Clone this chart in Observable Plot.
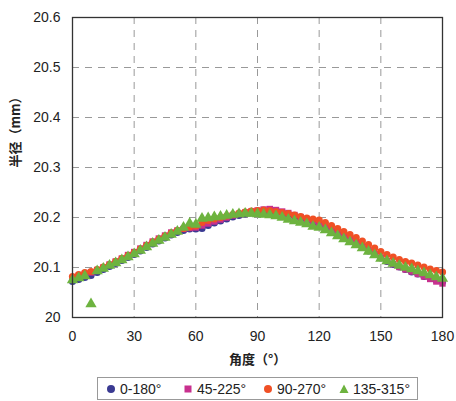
<!DOCTYPE html>
<html><head><meta charset="utf-8">
<script src="https://cdn.jsdelivr.net/npm/d3@7"></script>
<script src="https://cdn.jsdelivr.net/npm/@observablehq/plot@0.6"></script>
<style>
body{margin:0;background:#fff;font-family:"Liberation Sans",Arial,sans-serif;}
#chart{position:absolute;left:0;top:0;}
#legend{position:absolute;left:97px;top:377px;width:319px;height:21px;border:1px solid #999;font-size:14px;color:#222;}
#legend .it{position:absolute;top:0;height:21px;display:flex;align-items:center;white-space:nowrap;}
#legend svg{margin-right:4px;}
</style></head>
<body>
<div id="chart"></div>
<div id="legend"></div>
<script>
const angles = d3.range(0, 181, 3);
const seriesNames = ["0-180°", "45-225°", "90-270°", "135-315°"];
const seriesColors = ["#3a3a92", "#c8308e", "#f05025", "#6db33f"];
const seriesSymbols = ["circle", "square", "circle", "triangle"];
const yTicks = [20, 20.1, 20.2, 20.3, 20.4, 20.5, 20.6];
const xTicks = [0, 30, 60, 90, 120, 150, 180];

const blue = [20.072,20.076,20.080,20.084,20.090,20.096,20.102,20.108,20.114,20.120,20.126,20.133,20.140,20.147,20.153,20.159,20.165,20.170,20.174,20.177,20.177,20.178,20.184,20.189,20.193,20.197,20.201,20.204,20.207,20.209,20.211,20.212,20.212,20.211,20.209,20.206,20.202,20.198,20.194,20.190,20.186,20.180,20.174,20.168,20.161,20.154,20.147,20.140,20.133,20.126,20.119,20.112,20.106,20.101,20.096,20.091,20.087,20.082,20.078,20.074,20.071];
const magenta = [20.078,20.083,20.087,20.090,20.095,20.100,20.106,20.112,20.118,20.125,20.131,20.138,20.145,20.152,20.158,20.164,20.170,20.174,20.177,20.179,20.180,20.184,20.188,20.192,20.196,20.200,20.204,20.207,20.210,20.212,20.214,20.216,20.217,20.215,20.212,20.209,20.205,20.201,20.197,20.193,20.189,20.183,20.177,20.170,20.163,20.156,20.149,20.142,20.135,20.127,20.120,20.113,20.107,20.101,20.096,20.092,20.087,20.082,20.077,20.072,20.068];
const orange = [20.082,20.086,20.090,20.092,20.096,20.101,20.106,20.112,20.118,20.124,20.130,20.137,20.144,20.151,20.157,20.163,20.169,20.174,20.178,20.181,20.183,20.190,20.194,20.197,20.200,20.203,20.206,20.209,20.211,20.213,20.214,20.215,20.214,20.212,20.210,20.208,20.205,20.202,20.199,20.197,20.195,20.190,20.184,20.178,20.172,20.166,20.160,20.153,20.146,20.139,20.132,20.126,20.121,20.116,20.112,20.109,20.105,20.101,20.097,20.094,20.091];
const green = [20.075,20.079,20.083,20.027,20.093,20.098,20.104,20.109,20.115,20.121,20.127,20.134,20.141,20.148,20.154,20.160,20.166,20.172,20.180,20.188,20.186,20.198,20.199,20.201,20.202,20.204,20.206,20.207,20.208,20.208,20.207,20.206,20.205,20.203,20.200,20.196,20.193,20.190,20.187,20.182,20.180,20.175,20.169,20.163,20.157,20.151,20.145,20.139,20.132,20.125,20.118,20.113,20.108,20.104,20.100,20.097,20.093,20.089,20.085,20.081,20.078];

const allSeries = [blue, magenta, orange, green];

const dotMarks = allSeries.map((vals, k) =>
  Plot.dot(angles.map((a, i) => ({a, v: vals[i]})), {
    x: "a", y: "v", symbol: () => seriesSymbols[k],
    fill: seriesColors[k], stroke: "none",
    r: seriesSymbols[k] === "triangle" ? 4.2 : 3.6
  })
);

const plot = Plot.plot({
  width: 456, height: 376,
  marginTop: 17, marginLeft: 72, marginRight: 14, marginBottom: 59,
  style: {fontFamily: "'Liberation Sans', Arial, sans-serif", fontSize: "14px", color: "#222", background: "#fff"},
  symbol: {type: "identity"},
  x: {domain: [0, 180], ticks: xTicks},
  y: {domain: [20, 20.6], ticks: yTicks},
  marks: [
    Plot.ruleX(xTicks.slice(1, -1), {stroke: "#999", strokeDasharray: "7,6", strokeWidth: 1}),
    Plot.ruleY(yTicks.slice(1, -1), {stroke: "#999", strokeDasharray: "7,6", strokeWidth: 1}),
    ...dotMarks,
    Plot.frame({stroke: "#333", strokeWidth: 1.3}),
    Plot.axisX({ticks: xTicks, tickSize: 0, tickPadding: 14, label: null, fontSize: 14}),
    Plot.axisY({ticks: yTicks, tickSize: 0, tickPadding: 12, label: null, fontSize: 14,
      tickFormat: d => d === 20 ? "20" : d.toFixed(1)}),
    Plot.text(["角度（°）"], {frameAnchor: "bottom", dy: 46, fontWeight: "bold", fontSize: 13,
      fontFamily: "'Noto Sans CJK SC', sans-serif", fill: "#222", text: d => d}),
    Plot.text(["半径（mm）"], {frameAnchor: "left", dx: -57, rotate: -90, fontWeight: "bold", fontSize: 13,
      fontFamily: "'Noto Sans CJK SC', sans-serif", fill: "#222", text: d => d})
  ]
});
document.getElementById("chart").appendChild(plot);

const legend = document.getElementById("legend");
const legendLeft = [8, 85, 165, 241];
seriesNames.forEach((name, k) => {
  const it = document.createElement("div");
  it.className = "it";
  it.style.left = legendLeft[k] + "px";
  let shape;
  if (seriesSymbols[k] === "circle") shape = `<circle cx="5" cy="5" r="4" fill="${seriesColors[k]}"/>`;
  else if (seriesSymbols[k] === "square") shape = `<rect x="1.5" y="1.5" width="7" height="7" fill="${seriesColors[k]}"/>`;
  else shape = `<path d="M5,0.5 L9.5,9 L0.5,9 Z" fill="${seriesColors[k]}"/>`;
  it.innerHTML = `<svg width="10" height="10">${shape}</svg><span>${name}</span>`;
  legend.appendChild(it);
});
</script>
</body></html>
